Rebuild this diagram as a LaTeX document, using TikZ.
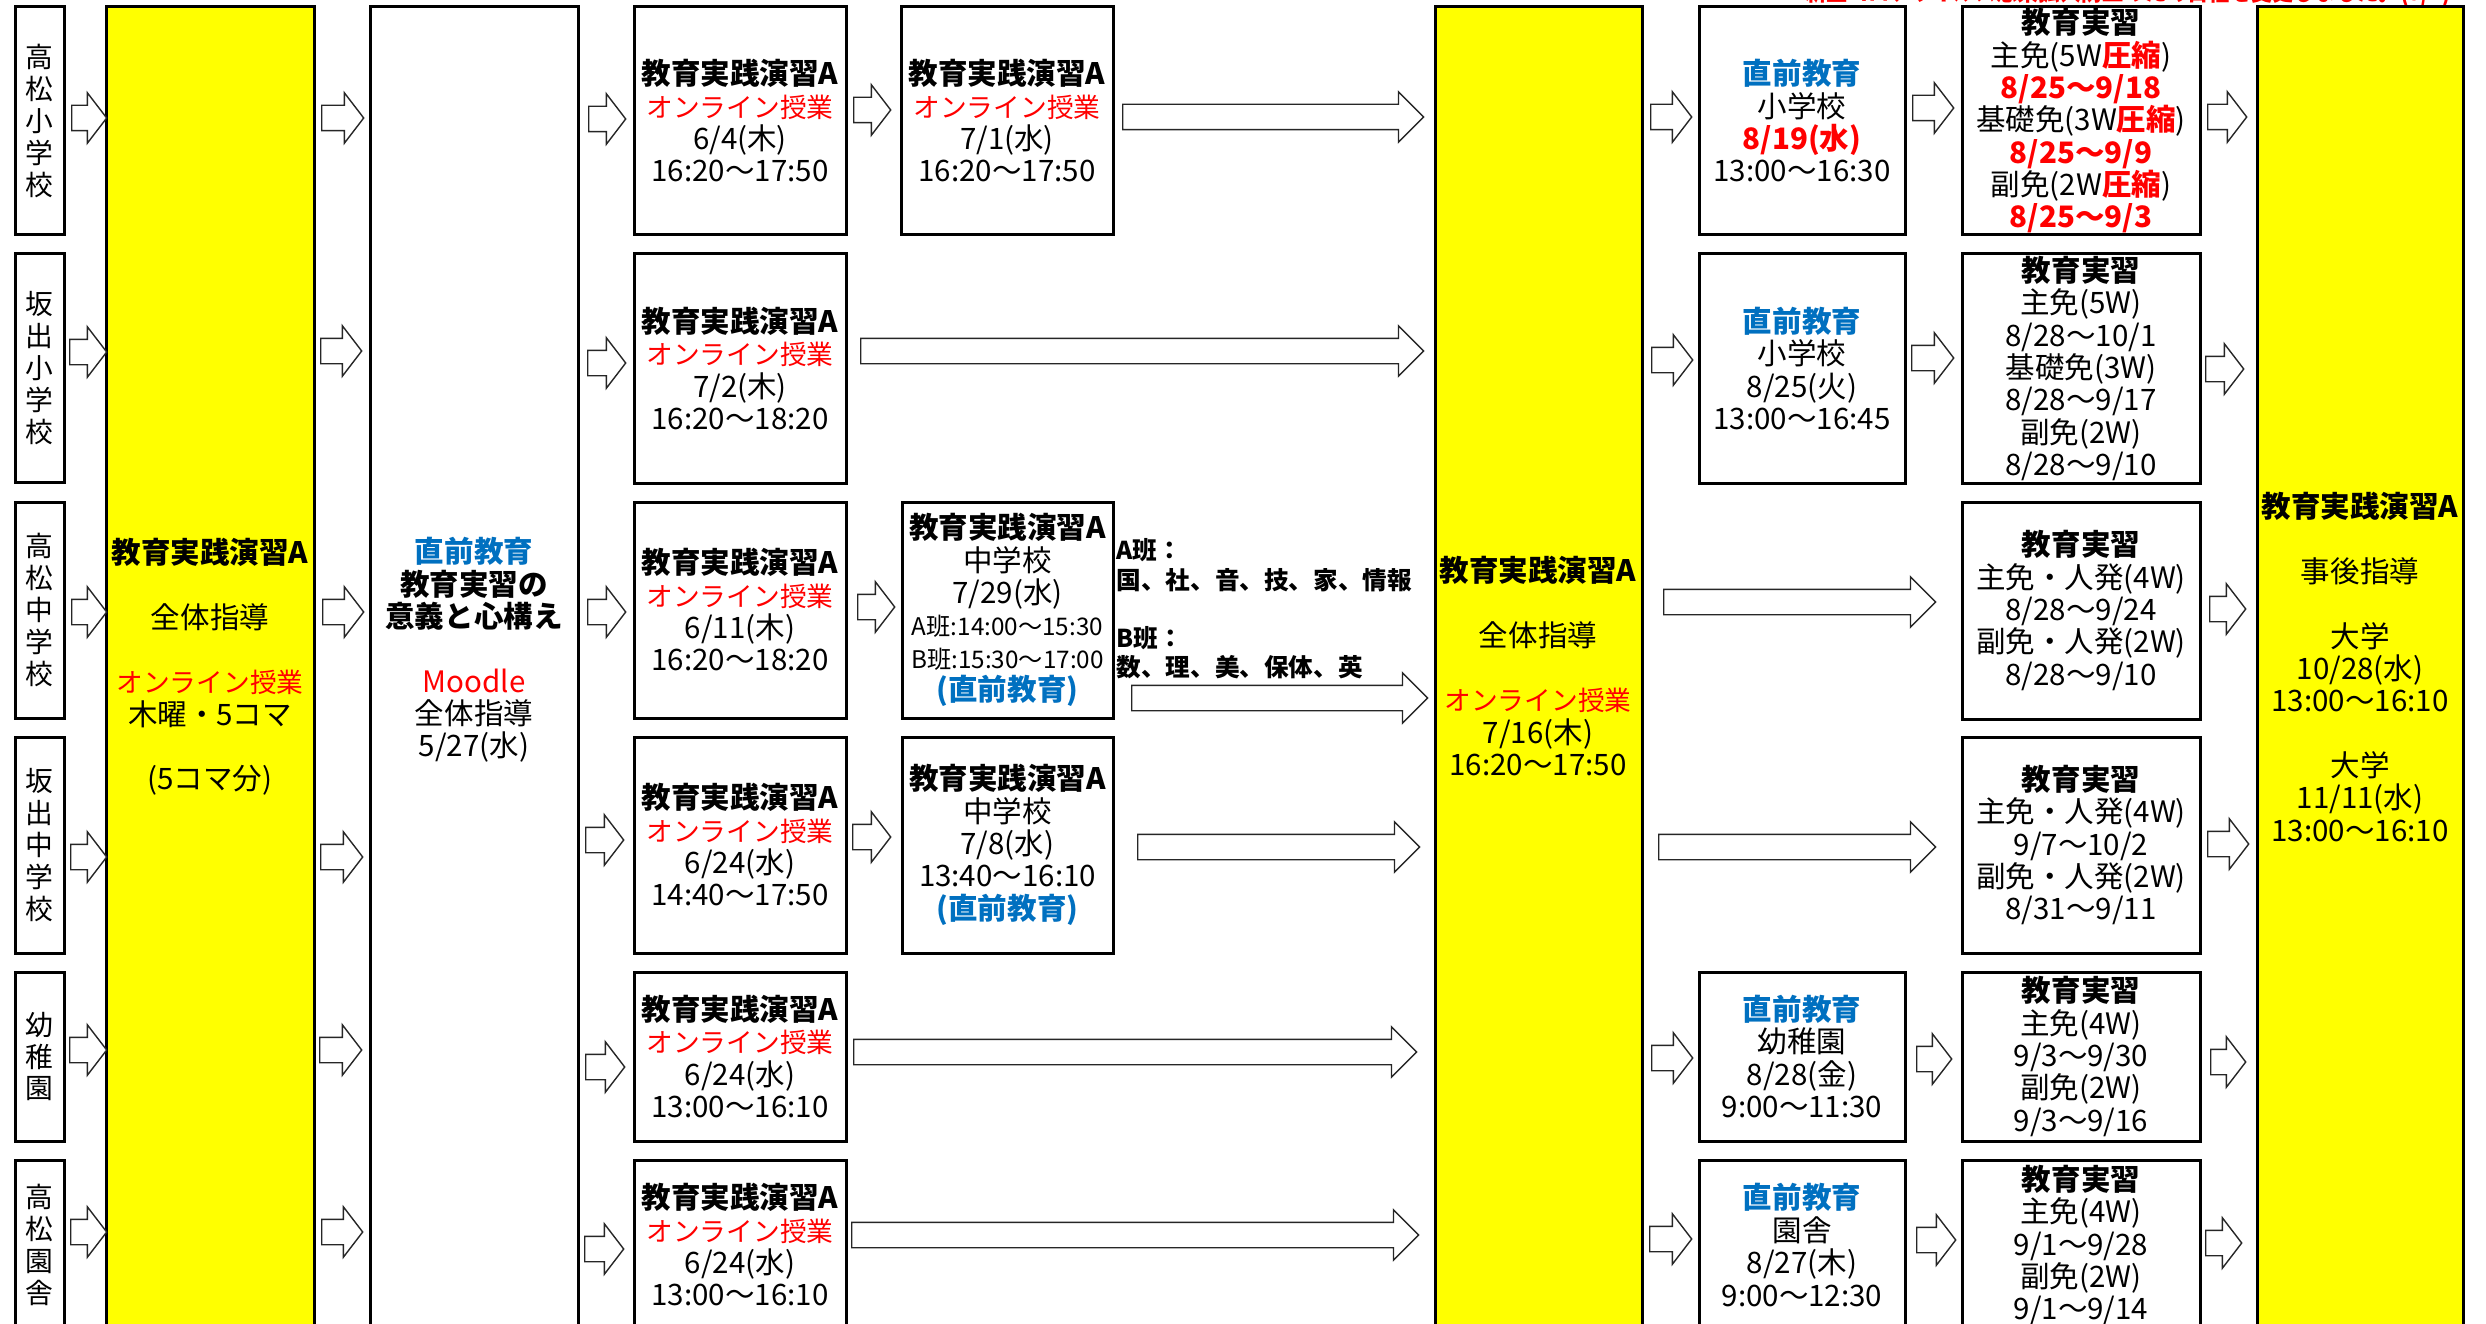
\documentclass[tikz,border=0pt]{standalone}
\usepackage{graphicx}
\usepackage{fontspec}
\setmainfont{Noto Sans CJK JP}
\usetikzlibrary{shapes.arrows}

\definecolor{redtxt}{RGB}{255,0,0}
\definecolor{bluetxt}{RGB}{0,112,192}
\definecolor{yellowbg}{RGB}{255,255,0}

\newcommand{\boxfont}{\fontsize{8.4pt}{9.2pt}\selectfont}
\newcommand{\smallfont}{\fontsize{6.9pt}{9.2pt}\selectfont}
\newcommand{\vertfont}{\fontsize{7.9pt}{9.1pt}\selectfont}
\newcommand{\sidefont}{\fontsize{7pt}{8.3pt}\selectfont}
\newcommand{\hdtxt}[1]{{\bfseries #1}}
\newcommand{\redtxt}[1]{\textcolor{redtxt}{#1}}
\newcommand{\redbf}[1]{\textcolor{redtxt}{\bfseries #1}}
\newcommand{\bluebf}[1]{\textcolor{bluetxt}{\bfseries #1}}
\newcommand{\online}{{\fontsize{7.6pt}{9.2pt}\selectfont\color{redtxt}オンライン授業}}
\newcommand{\boxcell}[7]{\node[#2, minimum width={(#5-#3)*0.1mm}, minimum height={(#6-#4)*0.1mm}] (#1) at ({(#3+#5)/2},{(#4+#6)/2}) {#7};}
\newcommand{\barrow}[5]{\node[#2, minimum height={(#4-#3)*0.1mm}] (#1) at (#3,#5) {};}

\begin{document}
\begin{tikzpicture}[x=0.1mm, y=-0.1mm,
    box/.style = {draw, line width=0.3mm, fill=white, align=center, inner sep=0pt, font=\boxfont},
    ybox/.style = {box, fill=yellowbg},
    vbox/.style = {box, font=\vertfont},
    txt/.style = {align=center, inner sep=0pt, font=\boxfont},
    sarr/.style = {single arrow, draw=black!85, fill=white, line width=0.14mm, anchor=tail,
                   inner xsep=0pt, inner ysep=1.2mm, minimum width=0pt,
                   single arrow head extend=1.25mm, single arrow tip angle=105},
    larr/.style = {sarr, single arrow tip angle=90}]
    \useasboundingbox (0,0) rectangle (2486,1324);
    \clip (0,0) rectangle (2486,1324);

    \node[anchor=base east, inner sep=0pt, font=\boxfont\bfseries, text=redtxt] (note) at (2452,1)
        {\scalebox{0.72}[1]{※新型コロナウイルス感染拡大防止のため日程を変更しました。(5/7)}};

    \boxcell{s1}{vbox}{15}{7}{64}{235}{高\\松\\小\\学\\校}
    \boxcell{s2}{vbox}{15}{254}{64}{482}{坂\\出\\小\\学\\校}
    \boxcell{s3}{vbox}{15}{502}{64}{718}{高\\松\\中\\学\\校}
    \boxcell{s4}{vbox}{15}{737}{64}{953}{坂\\出\\中\\学\\校}
    \boxcell{s5}{vbox}{15}{972}{64}{1141}{幼\\稚\\園}
    \boxcell{s6}{vbox}{15}{1160}{64}{1330}{高\\松\\園\\舎}

    \boxcell{yel1}{ybox}{106}{7}{314}{1345}{}
    \boxcell{zen}{box}{370}{7}{578}{1345}{}
    \boxcell{yel2}{ybox}{1435}{7}{1642}{1345}{}
    \boxcell{yel3}{ybox}{2257}{7}{2463}{1345}{}
    \node[txt] (yel1t) at (210,667) {\hdtxt{教育実践演習A}\\[9.2pt]全体指導\\[9.2pt]\online\\木曜・5コマ\\[9.2pt](5コマ分)};
    \node[txt] (zent) at (474,650) {\bluebf{直前教育}\\\hdtxt{教育実習の}\\\hdtxt{意義と心構え}\\[9.2pt]\redtxt{Moodle}\\全体指導\\5/27(水)};
    \node[txt] (yel2t) at (1538,666) {\hdtxt{教育実践演習A}\\[9.2pt]全体指導\\[9.2pt]\online\\7/16(木)\\16:20～17:50};
    \node[txt] (yel3t) at (2360,667) {\hdtxt{教育実践演習A}\\[9.2pt]事後指導\\[9.2pt]大学\\10/28(水)\\13:00～16:10\\[9.2pt]大学\\11/11(水)\\13:00～16:10};

    \boxcell{c31}{box}{634}{7}{846}{235}{\hdtxt{教育実践演習A}\\\online\\6/4(木)\\16:20～17:50}
    \boxcell{c32}{box}{634}{254}{846}{483}{\hdtxt{教育実践演習A}\\\online\\7/2(木)\\16:20～18:20}
    \boxcell{c33}{box}{634}{502}{846}{718}{\hdtxt{教育実践演習A}\\\online\\6/11(木)\\16:20～18:20}
    \boxcell{c34}{box}{634}{737}{846}{953}{\hdtxt{教育実践演習A}\\\online\\6/24(水)\\14:40～17:50}
    \boxcell{c35}{box}{634}{972}{846}{1141}{\hdtxt{教育実践演習A}\\\online\\6/24(水)\\13:00～16:10}
    \boxcell{c36}{box}{634}{1160}{846}{1330}{\hdtxt{教育実践演習A}\\\online\\6/24(水)\\13:00～16:10}

    \boxcell{c41}{box}{901}{7}{1113}{235}{\hdtxt{教育実践演習A}\\\online\\7/1(水)\\16:20～17:50}
    \boxcell{c43}{box}{902}{502}{1113}{718}{\hdtxt{教育実践演習A}\\中学校\\7/29(水)\\{\smallfont A班:14:00～15:30}\\{\smallfont B班:15:30～17:00}\\\bluebf{(直前教育)}}
    \boxcell{c44}{box}{902}{737}{1113}{953}{\hdtxt{教育実践演習A}\\中学校\\7/8(水)\\13:40～16:10\\\bluebf{(直前教育)}}
    \node[anchor=west, align=left, inner sep=0pt, font=\sidefont\bfseries] (bans) at (1116,609)
        {A班：\\国、社、音、技、家、情報\\[8.3pt]B班：\\数、理、美、保体、英};

    \boxcell{c61}{box}{1699}{7}{1905}{235}{\bluebf{直前教育}\\小学校\\\redbf{8/19(水)}\\13:00～16:30}
    \boxcell{c62}{box}{1699}{254}{1905}{483}{\bluebf{直前教育}\\小学校\\8/25(火)\\13:00～16:45}
    \boxcell{c65}{box}{1699}{972}{1905}{1141}{\bluebf{直前教育}\\幼稚園\\8/28(金)\\9:00～11:30}
    \boxcell{c66}{box}{1699}{1160}{1905}{1330}{\bluebf{直前教育}\\園舎\\8/27(木)\\9:00～12:30}

    \boxcell{c71}{box}{1962}{7}{2200}{235}{\hdtxt{教育実習}\\主免(5W\redbf{圧縮})\\\redbf{8/25～9/18}\\基礎免(3W\redbf{圧縮})\\\redbf{8/25～9/9}\\副免(2W\redbf{圧縮})\\\redbf{8/25～9/3}}
    \boxcell{c72}{box}{1962}{254}{2200}{483}{\hdtxt{教育実習}\\主免(5W)\\8/28～10/1\\基礎免(3W)\\8/28～9/17\\副免(2W)\\8/28～9/10}
    \boxcell{c73}{box}{1962}{502}{2200}{719}{\hdtxt{教育実習}\\主免・人発(4W)\\8/28～9/24\\副免・人発(2W)\\8/28～9/10}
    \boxcell{c74}{box}{1962}{737}{2200}{953}{\hdtxt{教育実習}\\主免・人発(4W)\\9/7～10/2\\副免・人発(2W)\\8/31～9/11}
    \boxcell{c75}{box}{1962}{972}{2200}{1141}{\hdtxt{教育実習}\\主免(4W)\\9/3～9/30\\副免(2W)\\9/3～9/16}
    \boxcell{c76}{box}{1962}{1160}{2200}{1330}{\hdtxt{教育実習}\\主免(4W)\\9/1～9/28\\副免(2W)\\9/1～9/14}

    \barrow{a11}{sarr}{71}{106}{118}
    \barrow{a12}{sarr}{69}{106}{352}
    \barrow{a13}{sarr}{71}{106}{612}
    \barrow{a14}{sarr}{70}{106}{857}
    \barrow{a15}{sarr}{69}{106}{1050}
    \barrow{a16}{sarr}{70}{106}{1232}

    \barrow{a21}{sarr}{321}{363}{118}
    \barrow{a22}{sarr}{320}{361}{351}
    \barrow{a23}{sarr}{322}{363}{612}
    \barrow{a24}{sarr}{320}{362}{857}
    \barrow{a25}{sarr}{319}{361}{1050}
    \barrow{a26}{sarr}{321}{362}{1232}

    \barrow{a31}{sarr}{588}{625}{119}
    \barrow{a32}{sarr}{587}{625}{363}
    \barrow{a33}{sarr}{587}{625}{612}
    \barrow{a34}{sarr}{585}{623}{840}
    \barrow{a35}{sarr}{585}{624}{1067}
    \barrow{a36}{sarr}{584}{623}{1249}

    \barrow{a41}{sarr}{853}{890}{110}
    \barrow{a43}{sarr}{857}{894}{607}
    \barrow{a44}{sarr}{852}{890}{837}

    \barrow{l1}{larr}{1122}{1423}{117}
    \barrow{l2}{larr}{860}{1423}{351}
    \barrow{l3}{larr}{1131}{1427}{698}
    \barrow{l4}{larr}{1137}{1419}{847}
    \barrow{l5}{larr}{853}{1416}{1052}
    \barrow{l6}{larr}{851}{1418}{1235}

    \barrow{a61}{sarr}{1650}{1691}{117}
    \barrow{a62}{sarr}{1651}{1692}{360}
    \barrow{a65}{sarr}{1651}{1692}{1058}
    \barrow{a66}{sarr}{1649}{1691}{1239}

    \barrow{l73}{larr}{1663}{1935}{602}
    \barrow{l74}{larr}{1658}{1935}{847}

    \barrow{a71}{sarr}{1912}{1953}{108}
    \barrow{a72}{sarr}{1911}{1953}{358}
    \barrow{a75}{sarr}{1916}{1951}{1059}
    \barrow{a76}{sarr}{1916}{1955}{1240}

    \barrow{a81}{sarr}{2207}{2246}{117}
    \barrow{a82}{sarr}{2205}{2243}{369}
    \barrow{a83}{sarr}{2209}{2245}{609}
    \barrow{a84}{sarr}{2207}{2248}{844}
    \barrow{a85}{sarr}{2210}{2245}{1062}
    \barrow{a86}{sarr}{2205}{2241}{1243}
\end{tikzpicture}
\end{document}
